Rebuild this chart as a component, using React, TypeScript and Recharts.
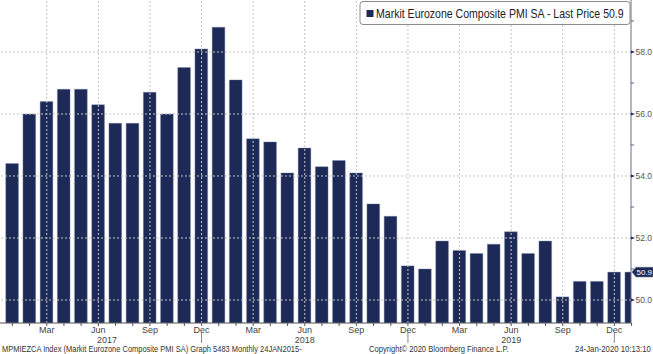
import React, { useLayoutEffect, useRef, useState } from 'react'
import { ComposedChart, Bar, XAxis, YAxis, ReferenceLine } from 'recharts'

// Markit Eurozone Composite PMI SA, Jan 2017 - Jan 2020
const months = [
  'Jan', 'Feb', 'Mar', 'Apr', 'May', 'Jun', 'Jul', 'Aug', 'Sep', 'Oct', 'Nov', 'Dec',
  'Jan', 'Feb', 'Mar', 'Apr', 'May', 'Jun', 'Jul', 'Aug', 'Sep', 'Oct', 'Nov', 'Dec',
  'Jan', 'Feb', 'Mar', 'Apr', 'May', 'Jun', 'Jul', 'Aug', 'Sep', 'Oct', 'Nov', 'Dec',
  'Jan',
]
const years = [
  '2017', '2017', '2017', '2017', '2017', '2017', '2017', '2017', '2017', '2017', '2017', '2017',
  '2018', '2018', '2018', '2018', '2018', '2018', '2018', '2018', '2018', '2018', '2018', '2018',
  '2019', '2019', '2019', '2019', '2019', '2019', '2019', '2019', '2019', '2019', '2019', '2019',
  '2020',
]
const pmi = [
  54.4, 56.0, 56.4, 56.8, 56.8, 56.3, 55.7, 55.7, 56.7, 56.0, 57.5, 58.1,
  58.8, 57.1, 55.2, 55.1, 54.1, 54.9, 54.3, 54.5, 54.1, 53.1, 52.7, 51.1,
  51.0, 51.9, 51.6, 51.5, 51.8, 52.2, 51.5, 51.9, 50.1, 50.6, 50.6, 50.9,
  50.9,
]
const labelMonths = ['Mar', 'Jun', 'Sep', 'Dec']
const majorY = [50, 52, 54, 56, 58]
const minorY = [51, 53, 55, 57, 59]
const lastPrice = 50.9

const data = pmi.map((v, i) => ({ i, month: months[i], year: years[i], v }))
const gridX = data.filter(d => labelMonths.includes(d.month)).map(d => d.i)

const NAVY = '#1d2a57'
const FONT = '"Liberation Sans", Arial, sans-serif'
const AXIS_X = 631

// squeezes a text horizontally so it spans the given width
function FitText({ x, y, width, fontSize, fill, children }: any) {
  const ref = useRef<SVGTextElement>(null)
  const [sx, setSx] = useState(1)
  useLayoutEffect(() => {
    if (ref.current) {
      const w = ref.current.getComputedTextLength()
      if (w > 0) setSx(width / w)
    }
  }, [width])
  return (
    <text ref={ref} transform={`translate(${x},${y}) scale(${sx},1)`} fontSize={fontSize} fill={fill}>
      {children}
    </text>
  )
}

function XTick(props: any) {
  const { x, payload } = props
  const idx = payload.value
  const m = months[idx]
  if (!labelMonths.includes(m)) return <g />
  const first = years.indexOf(years[idx]) === 0
  return (
    <g fontFamily={FONT} fontSize={9} fill="#444">
      <text x={x} y={332.5} textAnchor="middle">{m}</text>
      {m === 'Jun' && (
        <text x={x + (first ? 8.6 : 0)} y={342.5} textAnchor="middle">{years[idx]}</text>
      )}
      {m === 'Dec' && <line x1={x} x2={x} y1={333} y2={343} stroke="#888" />}
    </g>
  )
}

function YTick(props: any) {
  const { y, payload } = props
  const v = payload.value
  if (v === lastPrice) {
    return (
      <g>
        <path
          d={`M${AXIS_X + 1},${y} L${AXIS_X + 5},${y - 4.8} L653,${y - 4.8} L653,${y + 4.8} L${AXIS_X + 5},${y + 4.8} Z`}
          fill={NAVY}
          stroke="#5a6488"
          strokeWidth={0.6}
        />
        <text x={636.5} y={y + 3} fontFamily={FONT} fontSize={8} fill="#fff">
          {v.toFixed(1)}
        </text>
      </g>
    )
  }
  if (majorY.includes(v)) {
    return (
      <g>
        <path d={`M${AXIS_X},${y - 1.5} L${AXIS_X + 4},${y} L${AXIS_X},${y + 1.5} Z`} fill={NAVY} />
        <text x={635.5} y={y + 3} fontFamily={FONT} fontSize={8.5} fill="#555">
          {v.toFixed(1)}
        </text>
      </g>
    )
  }
  return <line x1={AXIS_X} x2={AXIS_X + 3} y1={y} y2={y} stroke="#666" />
}

export default function App() {
  return (
    <div style={{ position: 'absolute', left: 0, top: 0, width: 653, height: 354, background: '#fff' }}>
      <ComposedChart width={653} height={354} data={data} margin={{ top: 0, right: 0, bottom: 0, left: 0 }}>
        <XAxis
          type="number"
          dataKey="i"
          domain={[-0.718, 35.968]}
          allowDataOverflow
          ticks={data.map(d => d.i)}
          interval={0}
          height={31}
          tickSize={3}
          tick={<XTick />}
          axisLine={{ stroke: '#555' }}
          tickLine={{ stroke: '#555' }}
        />
        <YAxis
          orientation="right"
          domain={[49.258, 59.677]}
          allowDataOverflow
          ticks={[...majorY, ...minorY, lastPrice].sort((a, b) => a - b)}
          interval={0}
          width={22}
          tickLine={false}
          tick={<YTick />}
          axisLine={{ stroke: '#6b6b93' }}
        />
        {majorY.map(v => (
          <ReferenceLine key={'h' + v} y={v} stroke="#c4c4c4" strokeDasharray="2 2" />
        ))}
        {gridX.map(v => (
          <ReferenceLine key={'v' + v} x={v} stroke="#c4c4c4" strokeDasharray="2 2" />
        ))}
        <Bar dataKey="v" fill={NAVY} stroke="#7d87a6" strokeWidth={0.4} barSize={12.7} isAnimationActive={false} />
      </ComposedChart>
      <svg
        width={653}
        height={354}
        style={{ position: 'absolute', left: 0, top: 0, pointerEvents: 'none' }}
        fontFamily={FONT}
      >
        <rect x={360} y={1.5} width={270} height={23} rx={3} fill="#fff" stroke="#8c8c8c" />
        <rect x={366.5} y={10} width={7} height={7} fill={NAVY} />
        <FitText x={376} y={17.5} width={248} fontSize={12} fill="#222">
          Markit Eurozone Composite PMI SA - Last Price 50.9
        </FitText>
        <FitText x={2} y={352} width={300} fontSize={8.5} fill="#333">
          MPMIEZCA Index (Markit Eurozone Composite PMI SA) Graph 5483  Monthly 24JAN2015-
        </FitText>
        <FitText x={369} y={352} width={140} fontSize={8.5} fill="#333">
          Copyright© 2020 Bloomberg Finance L.P.
        </FitText>
        <FitText x={575} y={352} width={76} fontSize={8.5} fill="#333">
          24-Jan-2020 10:13:10
        </FitText>
      </svg>
    </div>
  )
}
